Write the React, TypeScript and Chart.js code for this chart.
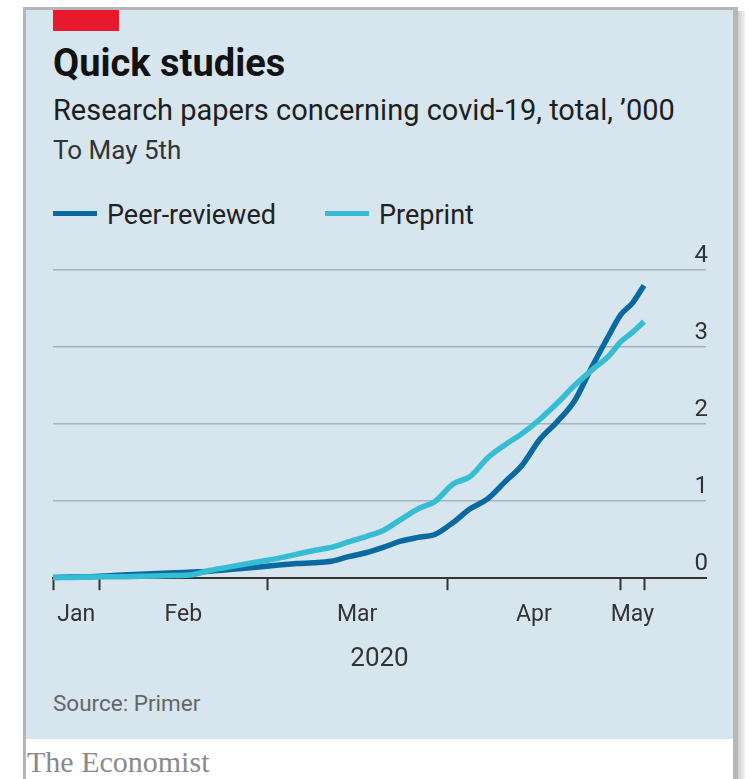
import React, { useEffect, useRef } from 'react';
import { Chart, registerables } from 'chart.js';

Chart.register(...registerables);

// Day of year (Jan 1 = 0)
const days = [23, 26, 29, 32, 35, 38, 41, 44, 47, 50, 53, 56, 59, 62, 65, 68, 71, 74, 77, 80, 83, 86, 89, 92, 95, 98, 101, 104, 107, 110, 113, 116, 119, 121, 123, 125];

// '000 papers
const peerReviewed = [0.01, 0.015, 0.02, 0.03, 0.04, 0.05, 0.06, 0.07, 0.08, 0.09, 0.11, 0.13, 0.15, 0.17, 0.19, 0.2, 0.22, 0.28, 0.33, 0.4, 0.48, 0.53, 0.57, 0.72, 0.9, 1.03, 1.25, 1.47, 1.8, 2.03, 2.3, 2.74, 3.16, 3.42, 3.57, 3.8];
const preprint = [0.01, 0.01, 0.015, 0.02, 0.02, 0.025, 0.03, 0.035, 0.045, 0.1, 0.14, 0.18, 0.22, 0.26, 0.31, 0.36, 0.4, 0.47, 0.54, 0.62, 0.76, 0.9, 1.0, 1.22, 1.32, 1.56, 1.73, 1.88, 2.06, 2.27, 2.5, 2.7, 2.89, 3.07, 3.19, 3.33];

const seriesNames = ['Peer-reviewed', 'Preprint'];
const seriesColors = ['#0b69a1', '#36bdd3'];

const yTicks = [0, 1, 2, 3, 4];
const monthBounds = [23, 31, 60, 91, 121, 125];
const monthMids = [27, 45.5, 75.5, 106, 123];
const monthLabels = ['Jan', 'Feb', 'Mar', 'Apr', 'May'];
const yearLabel = '2020';

const xMin = 23;
const xMax = 135.7;

const FONT = 'Roboto, "Noto Sans", sans-serif';

export default function App() {
  const canvasRef = useRef<HTMLCanvasElement | null>(null);

  useEffect(() => {
    const canvas = canvasRef.current;
    if (!canvas) return;
    const chart = new Chart(canvas, {
      type: 'line',
      data: {
        datasets: [
          {
            label: seriesNames[0],
            data: days.map((d, i) => ({ x: d, y: peerReviewed[i] })),
            borderColor: seriesColors[0],
            backgroundColor: seriesColors[0],
            borderWidth: 5.5,
            pointRadius: 0,
            cubicInterpolationMode: 'monotone',
            borderJoinStyle: 'round',
            clip: false,
            order: 1,
          },
          {
            label: seriesNames[1],
            data: days.map((d, i) => ({ x: d, y: preprint[i] })),
            borderColor: seriesColors[1],
            backgroundColor: seriesColors[1],
            borderWidth: 5.5,
            pointRadius: 0,
            cubicInterpolationMode: 'monotone',
            borderJoinStyle: 'round',
            clip: false,
            order: 0,
          },
        ],
      },
      options: {
        animation: false,
        responsive: false,
        maintainAspectRatio: false,
        layout: { padding: { left: 27, right: 23, top: 30, bottom: 5 } },
        plugins: { legend: { display: false }, tooltip: { enabled: false } },
        scales: {
          x: {
            type: 'linear',
            min: xMin,
            max: xMax,
            afterBuildTicks: (axis: any) => {
              axis.ticks = [...monthBounds, ...monthMids]
                .sort((a, b) => a - b)
                .map((v) => ({ value: v }));
            },
            ticks: {
              autoSkip: false,
              maxRotation: 0,
              padding: 11,
              color: '#333',
              font: { family: FONT, size: 23 },
              callback: (v: any) => {
                const i = monthMids.indexOf(Number(v));
                return i >= 0 ? monthLabels[i] : '';
              },
            },
            grid: {
              drawOnChartArea: false,
              drawTicks: true,
              tickLength: 12,
              tickWidth: 2,
              tickColor: (ctx: any) =>
                ctx.tick && monthBounds.includes(ctx.tick.value) ? '#333' : 'rgba(0,0,0,0)',
            },
            border: { display: true, color: '#333', width: 2 },
            title: {
              display: true,
              text: yearLabel,
              color: '#333',
              font: { family: FONT, size: 26 },
              padding: { top: 4, bottom: 0 },
            },
          },
          y: {
            position: 'right',
            min: 0,
            max: 4,
            afterBuildTicks: (axis: any) => {
              axis.ticks = yTicks.map((v) => ({ value: v }));
            },
            ticks: {
              mirror: true,
              padding: 2,
              labelOffset: -14,
              color: '#333',
              font: { family: FONT, size: 24 },
            },
            grid: {
              drawTicks: false,
              lineWidth: 1.5,
              color: (ctx: any) =>
                ctx.tick && ctx.tick.value === 0 ? 'rgba(0,0,0,0)' : '#a8b4bb',
            },
            border: { display: false },
          },
        },
      },
    } as any);
    return () => chart.destroy();
  }, []);

  const abs = (s: React.CSSProperties): React.CSSProperties => ({ position: 'absolute', ...s });

  return (
    <div style={abs({ left: 0, top: 0, width: 749, height: 779, background: '#ffffff', overflow: 'hidden' })}>
      {/* frame */}
      <div style={abs({ left: 23, top: 7, width: 714, height: 3, background: '#b5b5b5' })} />
      <div style={abs({ left: 23, top: 7, width: 3, height: 772, background: '#b5b5b5' })} />
      <div style={abs({ left: 733, top: 7, width: 5, height: 772, background: '#b8b8b8' })} />
      <div style={abs({ left: 738, top: 11, width: 7, height: 768, background: 'linear-gradient(to right, #cfcfcf, #f2f2f2)' })} />
      {/* panel */}
      <div style={abs({ left: 26, top: 10, width: 707, height: 729, background: '#d6e5ee' })} />
      <div style={abs({ left: 53, top: 10, width: 66, height: 21, background: '#e8192c' })} />
      <div style={abs({ left: 53, top: 44, fontFamily: FONT, fontWeight: 700, fontSize: 38, lineHeight: '38px', color: '#121212', whiteSpace: 'nowrap' })}>
        Quick studies
      </div>
      <div style={abs({ left: 53, top: 96, fontFamily: FONT, fontSize: 29, lineHeight: '29px', color: '#1e1e1e', whiteSpace: 'nowrap' })}>
        Research papers concerning covid-19, total, ’000
      </div>
      <div style={abs({ left: 53, top: 137, fontFamily: FONT, fontSize: 26, lineHeight: '26px', color: '#333', whiteSpace: 'nowrap' })}>
        To May 5th
      </div>
      {/* legend */}
      <div style={abs({ left: 53, top: 211, width: 44, height: 5, background: seriesColors[0] })} />
      <div style={abs({ left: 107, top: 202, fontFamily: FONT, fontSize: 27, lineHeight: '27px', color: '#222', whiteSpace: 'nowrap' })}>
        {seriesNames[0]}
      </div>
      <div style={abs({ left: 325, top: 211, width: 44, height: 5, background: seriesColors[1] })} />
      <div style={abs({ left: 379, top: 202, fontFamily: FONT, fontSize: 27, lineHeight: '27px', color: '#222', whiteSpace: 'nowrap' })}>
        {seriesNames[1]}
      </div>
      {/* chart */}
      <canvas ref={canvasRef} width={707} height={440} style={abs({ left: 26, top: 240, width: 707, height: 440, display: 'block' })} />
      <div style={abs({ left: 53, top: 692, fontFamily: FONT, fontSize: 22.5, lineHeight: '22.5px', color: '#666', whiteSpace: 'nowrap' })}>
        Source: Primer
      </div>
      <div style={abs({ left: 27, top: 747, fontFamily: '"Liberation Serif", "DejaVu Serif", serif', fontSize: 30, lineHeight: '30px', color: '#8a8a8a', whiteSpace: 'nowrap' })}>
        The Economist
      </div>
    </div>
  );
}
